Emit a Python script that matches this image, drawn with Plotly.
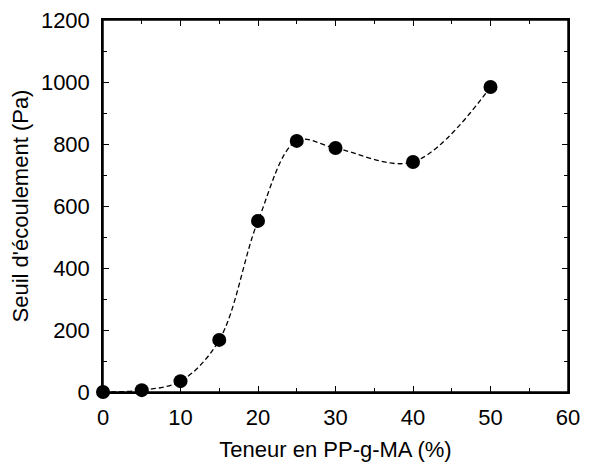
import plotly.graph_objects as go

x_vals = [0, 5, 10, 15, 20, 25, 30, 40, 50]
y_vals = [0, 6, 35, 168, 552, 810, 787, 742, 984]

fig = go.Figure()
fig.add_trace(go.Scatter(
    x=x_vals, y=y_vals, mode="lines+markers",
    line=dict(color="black", width=1.3, dash="5px,3px", shape="spline", smoothing=1.0),
    marker=dict(color="black", size=14),
    showlegend=False, cliponaxis=False,
))

font = dict(family="Liberation Sans, Arial, sans-serif", size=22, color="black")
axis_common = dict(
    showline=True, linecolor="black", linewidth=1.5, mirror="ticks",
    ticks="inside", ticklen=6, tickwidth=1, tickcolor="black",
    showgrid=False, zeroline=False, tickfont=font, automargin=False,
    ticklabeloverflow="allow",
)
fig.update_xaxes(range=[0, 60], dtick=10, tick0=0, ticklabelstandoff=5,
                 title=dict(text="Teneur en PP-g-MA (%)", font=font, standoff=12),
                 minor=dict(ticks="inside", ticklen=4, dtick=5, tickcolor="black", showgrid=False),
                 **axis_common)
fig.update_yaxes(range=[0, 1200], dtick=200, tick0=0, ticklabelstandoff=7,
                 title=dict(text="Seuil d'écoulement (Pa)", font=font, standoff=8),
                 minor=dict(ticks="inside", ticklen=4, dtick=100, tickcolor="black", showgrid=False),
                 **axis_common)
fig.add_shape(type="rect", xref="paper", yref="paper", x0=0, x1=1, y0=0, y1=1,
              line=dict(color="black", width=1.5), layer="above")
fig.update_layout(
    width=583, height=458,
    margin=dict(l=95, r=23, t=12, b=74),
    plot_bgcolor="white", paper_bgcolor="white",
    font=font,
)
fig.write_html("out.html")
